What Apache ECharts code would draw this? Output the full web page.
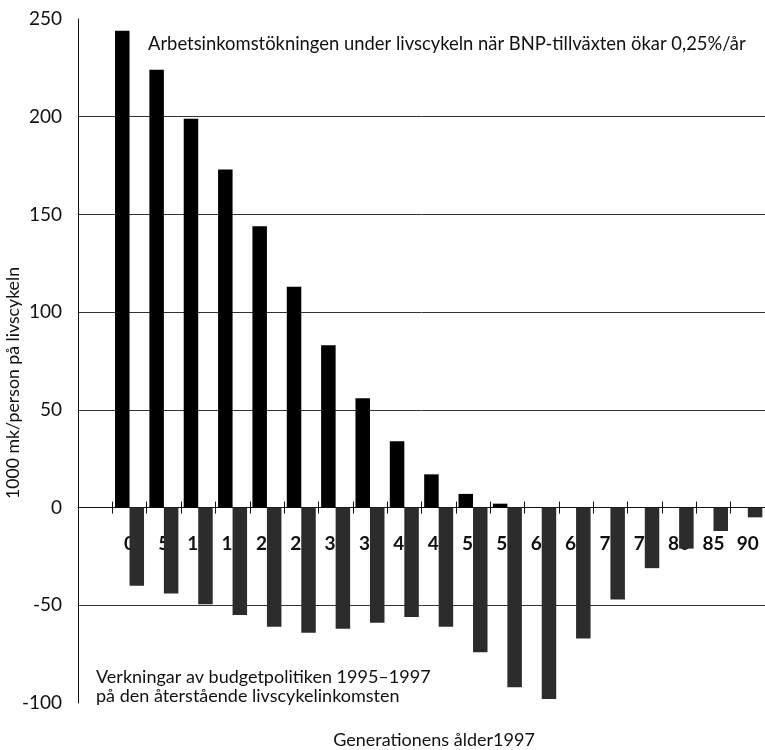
<!DOCTYPE html>
<html>
<head>
<meta charset="utf-8">
<script src="https://cdn.jsdelivr.net/npm/echarts@6/dist/echarts.min.js"></script>
<style>
html,body{margin:0;padding:0;background:#fff;}
#chart{width:765px;height:750px;}
</style>
</head>
<body>
<div id="chart"></div>
<script>
const categories = ['', '0', '5', '10', '15', '20', '25', '30', '35', '40', '45', '50', '55', '60', '65', '70', '75', '80', '85', '90'];
const workIncomeGain = [null, 244, 224, 199, 173, 144, 113, 83, 56, 34, 17, 7, 2, 0, 0, 0, 0, 0, 0, 0];
const budgetEffect = [null, -40, -44, -49.5, -55, -61, -64, -62, -59, -56, -61, -74, -92, -98, -67, -47, -31, -21, -12, -5];
const yTicks = { min: -100, max: 250, interval: 50 };
const texts = {
  top: 'Arbetsinkomstökningen under livscykeln när BNP-tillväxten ökar 0,25%/år',
  bottom: 'Verkningar av budgetpolitiken 1995–1997\npå den återstående livscykelinkomsten',
  yTitle: '1000 mk/person på livscykeln',
  xTitle: 'Generationens ålder1997'
};

const FONT = 'Lato, "Open Sans", sans-serif';
const GRID = { left: 78, right: 0, top: 19, bottom: 47 };
const H = 750;
const plotH = H - GRID.top - GRID.bottom;
// shift the category axes from the plot edges to the value 0
const zeroFromBottom = plotH * (0 - yTicks.min) / (yTicks.max - yTicks.min);
const zeroFromTop = plotH - zeroFromBottom;

const chart = echarts.init(document.getElementById('chart'), null, { renderer: 'canvas' });
chart.setOption({
  animation: false,
  backgroundColor: '#fff',
  textStyle: { fontFamily: FONT, color: '#111' },
  grid: Object.assign({ containLabel: false }, GRID),
  xAxis: [{
    type: 'category',
    data: categories,
    position: 'bottom',
    offset: -zeroFromBottom,
    boundaryGap: true,
    axisLine: { show: true, onZero: false, lineStyle: { color: '#111', width: 1 } },
    axisTick: { show: true, inside: false, length: 6, lineStyle: { color: '#111', width: 1 } },
    axisLabel: { show: true, interval: 0, margin: 27, fontSize: 19, fontWeight: 'bold', color: '#111', fontFamily: FONT },
    splitLine: { show: false }
  }, {
    type: 'category',
    data: categories,
    position: 'top',
    offset: -zeroFromTop,
    boundaryGap: true,
    axisLine: { show: false, onZero: false },
    axisTick: { show: true, inside: false, length: 6, lineStyle: { color: '#111', width: 1 } },
    axisLabel: { show: false },
    splitLine: { show: false }
  }],
  yAxis: {
    type: 'value',
    min: yTicks.min,
    max: yTicks.max,
    interval: yTicks.interval,
    axisLine: { show: true, lineStyle: { color: '#111', width: 1 } },
    axisTick: { show: false },
    axisLabel: { margin: 16, fontSize: 19, color: '#111', fontFamily: FONT },
    splitLine: { show: true, showMinLine: false, showMaxLine: false, lineStyle: { color: '#333', width: 1 } }
  },
  series: [{
    name: 'Arbetsinkomstökning',
    type: 'bar',
    data: workIncomeGain,
    barWidth: 14.5,
    barGap: '0%',
    itemStyle: { color: '#000' }
  }, {
    name: 'Budgetpolitik',
    type: 'bar',
    data: budgetEffect,
    barWidth: 14.5,
    barGap: '0%',
    itemStyle: { color: '#2c2c2c' }
  }],
  graphic: [{
    type: 'text', left: 148, top: 35,
    style: { text: texts.top, font: '18.4px ' + FONT, fill: '#111' }
  }, {
    type: 'text', left: 96, top: 668,
    style: { text: texts.bottom, font: '18px ' + FONT, fill: '#111', lineHeight: 19 }
  }, {
    type: 'text', x: 13, y: 383, rotation: Math.PI / 2,
    style: { text: texts.yTitle, font: '17.7px ' + FONT, fill: '#111', textAlign: 'center', textVerticalAlign: 'middle' }
  }, {
    type: 'text', x: 434, y: 740,
    style: { text: texts.xTitle, font: '18px ' + FONT, fill: '#111', textAlign: 'center', textVerticalAlign: 'middle' }
  }]
});
</script>
</body>
</html>
